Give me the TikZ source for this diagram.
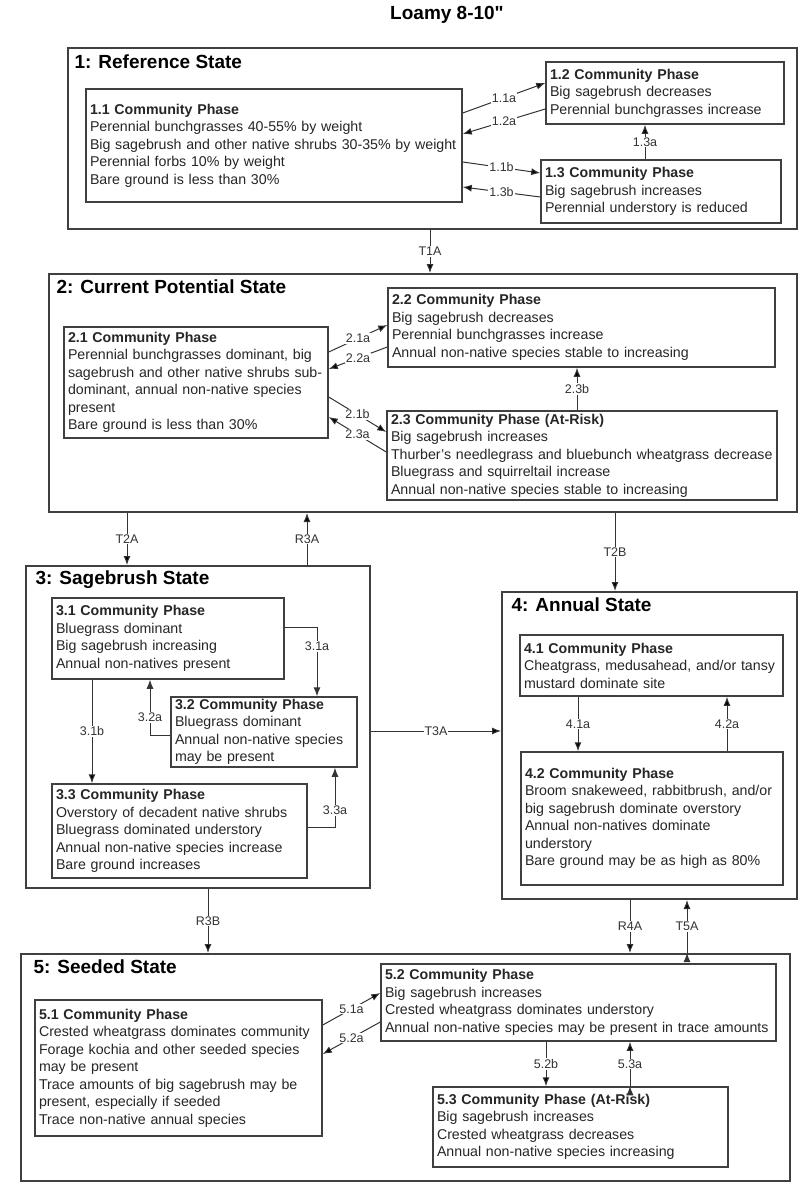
\documentclass[tikz,border=0pt]{standalone}
\usepackage{fontspec}
\setmainfont{Liberation Sans}
\newfontfamily\titlefont[Ligatures=TeXOff]{Liberation Sans}
\usetikzlibrary{arrows.meta,positioning}

\begin{document}
\begin{tikzpicture}[->,>={Latex[length=9pt,width=7pt]},x=1pt,y=-1pt,line width=1pt]
  \tikzstyle{state}=[draw=black!75,line width=2pt,inner sep=0pt]
  \tikzstyle{phase}=[draw=black!75,line width=1.5pt,fill=white,align=left,inner xsep=4pt,inner ysep=0pt,text=black!85,font=\fontsize{14.2}{17.5}\selectfont]
  \tikzstyle{stitle}=[anchor=west,inner sep=0pt,font=\fontsize{19}{22}\selectfont\bfseries]
  \tikzstyle{conn}=[draw=black!80,line width=1pt]
  \tikzstyle{lbl}=[fill=white,inner sep=1pt,text=black!80,font=\fontsize{12.5}{14}\selectfont]

  \useasboundingbox (0,0) rectangle (800,1183);
  \node[font=\fontsize{19}{22}\selectfont\titlefont\bfseries] (title) at (447,15) {Loamy 8-10"};

  % states
  \node[state,minimum width=729,minimum height=181] (s1) at (432.5,138.5) {};
  \node[state,minimum width=748,minimum height=238] (s2) at (423,393) {};
  \node[state,minimum width=344,minimum height=322] (s3) at (198,727) {};
  \node[state,minimum width=295,minimum height=307] (s4) at (649.5,745.5) {};
  \node[state,minimum width=769,minimum height=227] (s5) at (405.5,1067.5) {};

  \node[stitle] (t1) at (74,62) {1: Reference State};
  \node[stitle] (t2) at (56,287) {2: Current Potential State};
  \node[stitle] (t3) at (35,580) {3: Sagebrush State};
  \node[stitle] (t4) at (511,605) {4: Annual State};
  \node[stitle] (t5) at (33,967) {5: Seeded State};

  % community phases
  \node[phase,text width=368,minimum height=113] (p11) at (274,145.5)
    {\textbf{1.1 Community Phase}\\Perennial bunchgrasses 40-55\% by weight\\Big sagebrush and other native shrubs 30-35\% by weight\\Perennial forbs 10\% by weight\\Bare ground is less than 30\%};
  \node[phase,text width=230,minimum height=62] (p12) at (665,93)
    {\textbf{1.2 Community Phase}\\Big sagebrush decreases\\Perennial bunchgrasses increase};
  \node[phase,text width=232,minimum height=63] (p13) at (661,191.5)
    {\textbf{1.3 Community Phase}\\Big sagebrush increases\\Perennial understory is reduced};

  \node[phase,text width=256,minimum height=111] (p21) at (196,382.5)
    {\textbf{2.1 Community Phase}\\Perennial bunchgrasses dominant, big\\sagebrush and other native shrubs sub-\\dominant, annual non-native species\\present\\Bare ground is less than 30\%};
  \node[phase,text width=379,minimum height=79] (p22) at (581.5,327.5)
    {\textbf{2.2 Community Phase}\\Big sagebrush decreases\\Perennial bunchgrasses increase\\Annual non-native species stable to increasing};
  \node[phase,text width=382,minimum height=89] (p23) at (582,455.5)
    {\textbf{2.3 Community Phase (At-Risk)}\\Big sagebrush increases\\Thurber’s needlegrass and bluebunch wheatgrass decrease\\Bluegrass and squirreltail increase\\Annual non-native species stable to increasing};

  \node[phase,text width=224,minimum height=81] (p31) at (168,638.5)
    {\textbf{3.1 Community Phase}\\Bluegrass dominant\\Big sagebrush increasing\\Annual non-natives present};
  \node[phase,text width=178,minimum height=70] (p32) at (264,732)
    {\textbf{3.2 Community Phase}\\Bluegrass dominant\\Annual non-native species\\may be present};
  \node[phase,text width=247,minimum height=94] (p33) at (179.5,831)
    {\textbf{3.3 Community Phase}\\Overstory of decadent native shrubs\\Bluegrass dominated understory\\Annual non-native species increase\\Bare ground increases};

  \node[phase,text width=255,minimum height=61] (p41) at (651.5,665.5)
    {\textbf{4.1 Community Phase}\\Cheatgrass, medusahead, and/or tansy\\mustard dominate site};
  \node[phase,text width=254,minimum height=133] (p42) at (652,818.5)
    {\textbf{4.2 Community Phase}\\Broom snakeweed, rabbitbrush, and/or\\big sagebrush dominate overstory\\Annual non-natives dominate\\understory\\Bare ground may be as high as 80\%};

  \node[phase,text width=279,minimum height=136] (p51) at (178.5,1068)
    {\textbf{5.1 Community Phase}\\Crested wheatgrass dominates community\\Forage kochia and other seeded species\\may be present\\Trace amounts of big sagebrush may be\\present, especially if seeded\\Trace non-native annual species};
  \node[phase,text width=387,minimum height=77] (p52) at (578.5,1002.5)
    {\textbf{5.2 Community Phase}\\Big sagebrush increases\\Crested wheatgrass dominates understory\\Annual non-native species may be present in trace amounts};
  \node[phase,text width=287,minimum height=80] (p53) at (580.5,1127)
    {\textbf{5.3 Community Phase (At-Risk)}\\Big sagebrush increases\\Crested wheatgrass decreases\\Annual non-native species increasing};

  % pathways within states
  \path[conn]
  (p11.east |- 0,113) edge node[lbl] {1.1a} (p12.west |- 0,83)
  (p12.west |- 0,109) edge node[lbl] {1.2a} (p11.east |- 0,134)
  (p11.east |- 0,162) edge node[lbl] {1.1b} (p13.west |- 0,173)
  (p13.west |- 0,197) edge node[lbl] {1.3b} (p11.east |- 0,187)
  (p13.north -| 645,0) edge node[lbl] {1.3a} (p12.south -| 645,0)
  (p21.east |- 0,352) edge node[lbl] {2.1a} (p22.west |- 0,325)
  (p22.west |- 0,347) edge node[lbl] {2.2a} (p21.east |- 0,369)
  (p21.east |- 0,397) edge node[lbl] {2.1b} (p23.west |- 0,432)
  (p23.west |- 0,452) edge node[lbl] {2.3a} (p21.east |- 0,417)
  (p23.north -| 577,0) edge node[lbl] {2.3b} (p22.south -| 577,0)
  (p31.south -| 92,0) edge node[lbl] {3.1b} (p33.north -| 92,0)
  (p41.south -| 578,0) edge node[lbl] {4.1a} (p42.north -| 578,0)
  (p42.north -| 727,0) edge node[lbl] {4.2a} (p41.south -| 727,0)
  (p51.east |- 0,1025) edge node[lbl] {5.1a} (p52.west |- 0,993)
  (p52.west |- 0,1022) edge node[lbl] {5.2a} (p51.east |- 0,1054)
  (p52.south -| 546,0) edge node[lbl] {5.2b} (p53.north -| 546,0)
  (p53.north -| 630,0) edge node[lbl] {5.3a} (p52.south -| 630,0);

  \draw[conn] (p31.east |- 0,627) -| node[lbl,pos=0.64] {3.1a} (p32.north -| 317,0);
  \draw[conn] (p32.west |- 0,735) -| node[lbl,pos=0.66] {3.2a} (p31.south -| 150,0);
  \draw[conn] (p33.east |- 0,827) -| node[lbl,pos=0.64] {3.3a} (p32.south -| 335,0);

  % transitions between states
  \path[conn]
  (s1.south -| 430,0) edge node[lbl] {T1A} (s2.north -| 430,0)
  (s2.south -| 127,0) edge node[lbl] {T2A} (s3.north -| 127,0)
  (s3.north -| 307,0) edge node[lbl] {R3A} (s2.south -| 307,0)
  (s2.south -| 615,0) edge node[lbl] {T2B} (s4.north -| 615,0)
  (s3.east |- 0,731) edge node[lbl] {T3A} (s4.west |- 0,731)
  (s3.south -| 208,0) edge node[lbl] {R3B} (s5.north -| 208,0)
  (s4.south -| 630,0) edge node[lbl] {R4A} (s5.north -| 630,0)
  (s5.north -| 687,0) edge node[lbl] {T5A} (s4.south -| 687,0);
\end{tikzpicture}
\end{document}
